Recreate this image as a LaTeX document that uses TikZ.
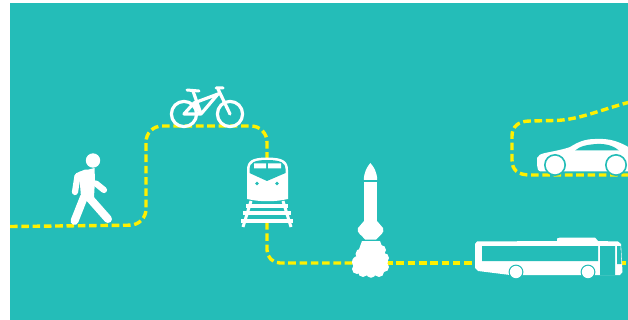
\documentclass[tikz,border=0pt]{standalone}
\definecolor{panel}{HTML}{24BDB8}
\definecolor{route}{HTML}{FFF000}
\tikzset{
  route line/.style={route,line width=3.4pt,dash pattern=on 7.6pt off 3.7pt},
  limb/.style={white,line width=#1,line cap=round,line join=round},
  hole/.style={fill=panel,draw=none}
}
\begin{document}
\begin{tikzpicture}[x=1pt,y=-1pt]
\useasboundingbox (0,0) rectangle (628,320);
\fill[panel] (10,3) rectangle (628,320);
\begin{scope}
\clip (10,3) rectangle (628,320);
% routes
\draw[route line,rounded corners=16pt] (10,226.5) -- (146,225) -- (146,126) -- (267,126) -- (267,165);
\draw[route line,rounded corners=13pt] (267,222) -- (267,263) -- (360,263);
\draw[route line] (385,263) -- (476,263);
\draw[route line] (618,263) -- (630,263);
\draw[route line] (630,102) .. controls (600,110) and (578,120) .. (555,120.5) -- (530,121)
  .. controls (518,121) and (512,127) .. (512,136) -- (512,160)
  .. controls (512,170) and (518,175) .. (530,175) -- (630,175);
% walker
\fill[white] (93,160.5) circle (7.2);
\draw[limb=8pt] (85,193) -- (108,219);
\draw[limb=8pt] (84,197) -- (74.5,221);
\fill[white] (79,172) -- (94.5,168) -- (95,180) -- (94,197) -- (81,197) -- cycle;
\draw[limb=6.2pt] (86,172.5) -- (77.5,176) -- (75,192);
\draw[limb=6.2pt] (96,183.5) -- (104,190);
% bicycle
\draw[white,line width=3.2pt] (184,114) circle (12.6) (230,114) circle (12.6);
\draw[limb=3.2pt] (193,91) -- (201,114) -- (184,114) -- (194,103) -- (218,94)
  (194,103) -- (201,114) (201,114) -- (218,94) (218,89) -- (230,114);
\draw[limb=3pt] (187,90) -- (199,91) (216,88) -- (223,88);
% train
\fill[white] (247,170) .. controls (247,161) and (252,157.5) .. (267,157.5)
  .. controls (283,157.5) and (288,161) .. (288,170) -- (288,199)
  .. controls (275,202) and (260,202) .. (247,199) -- cycle;
\path[hole] (249.5,173) -- (249.5,169) .. controls (249.5,163) and (254,160) .. (267,160)
  .. controls (281,160) and (285.5,163) .. (285.5,169) -- (285.5,173) -- (267,181) -- cycle;
\fill[white] (254,163.5) rectangle (266,168.5) (268,163.5) rectangle (281,168.5);
\path[hole] (257,183.5) circle (1.8) (277,183.5) circle (1.8);
\draw[white,line width=3pt] (251,201) -- (243,227) (283,201) -- (291,227);
\draw[white,line width=3.4pt] (246,206) -- (288,206) (243,213) -- (291,213) (241,221) -- (293,221);
% rocket
\fill[white] (363.8,180) .. controls (364,172) and (367,167) .. (370.3,163)
  .. controls (374,167) and (377,172) .. (377.2,180) -- cycle;
\fill[white] (363.8,182) rectangle (377.2,224);
\fill[white] (364,221) -- (358,228) .. controls (356,233) and (362,235) .. (365,239.5) -- (376,239.5)
  .. controls (380,235) and (385,233) .. (383,228) -- (377,221) -- cycle;
\fill[white] (362,241) -- (380,241) -- (388,262) -- (380,275) -- (360,275) -- (353,266) -- cycle;
\foreach \cx/\cy/\r in {361/254/5.5,358/262/6,357/269/5,363/272/5,371/273/4.8,379/272/5,384/267/5,384/258/5,381/250/5,371/258/14}
  \fill[white] (\cx,\cy) circle (\r);
% bus
\fill[white] (475,244) -- (477,241.5) -- (557,241) -- (557,238.5) -- (560,237.5) -- (595,237.5) -- (598,241)
  -- (618,241.5) -- (621,244) -- (622.5,272) -- (620,275) -- (510,275) -- (478,271) -- (475,268) -- cycle;
\path[hole] (482,246) rectangle (598,261) (600,246) rectangle (615,275);
\path[hole] (617,246) -- (620.5,246) -- (621.5,264) -- (617,264) -- cycle;
\path[hole] (516,272) circle (7.4) (588,272) circle (7.4);
\fill[white] (516,272) circle (6.2) (588,272) circle (6.2);
% car
\fill[white] (537,165) -- (537,158) .. controls (538,155) and (541,154) .. (545,153)
  .. controls (555,151) and (565,149) .. (570,147)
  .. controls (578,142) and (585,139) .. (595,139)
  .. controls (610,138) and (620,142) .. (630,148) -- (630,171.5) -- (541,171.5)
  .. controls (538,171.5) and (537,168) .. (537,165) -- cycle;
\path[hole] (555,165) circle (11) (616,165) circle (11);
\fill[white] (555,165) circle (9.2) (616,165) circle (9.2);
\path[hole] (575,150.5) .. controls (580,146) and (588,144.5) .. (597,144)
  .. controls (606,143.5) and (614,146) .. (619,150.5) -- cycle;
\end{scope}
\end{tikzpicture}
\end{document}
